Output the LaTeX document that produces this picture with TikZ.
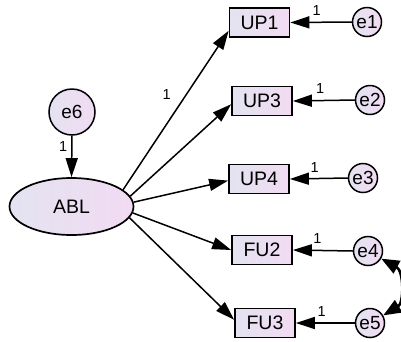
\documentclass[tikz,border=0pt]{standalone}
\usepackage{fontspec}
\setmainfont{Liberation Sans}
\usetikzlibrary{arrows.meta,shapes.geometric}
\definecolor{fa}{HTML}{E3E3F1}
\definecolor{fb}{HTML}{F2DBF2}
\begin{document}
\begin{tikzpicture}[x=1pt,y=-1pt,
  obs/.style={draw, line width=1.7pt, left color=fa, right color=fb, minimum width=60pt, minimum height=29pt, inner sep=0pt, font=\fontsize{19.5}{19.5}\selectfont},
  err/.style={circle, draw, line width=1.5pt, left color=fa, right color=fb, minimum size=29pt, inner sep=0pt, font=\fontsize{19}{19}\selectfont},
  lat/.style={ellipse, draw, line width=1.7pt, left color=fa, right color=fb, minimum width=124pt, minimum height=57pt, inner sep=0pt, font=\fontsize{19.5}{19.5}\selectfont},
  arr/.style={-{Triangle[length=19pt,width=12pt]}, line width=1.5pt},
  cov/.style={{Triangle[length=18pt,width=14pt]}-{Triangle[length=18pt,width=14pt]}, line width=2.6pt},
  lab/.style={font=\fontsize{14.5}{14.5}\selectfont, inner sep=1pt}
]
\useasboundingbox (0,0) rectangle (401,341);

\node[lat] (ABL) at (71.5,206.5) {ABL};
\node[err, minimum size=46pt] (e6) at (72,112) {e6};

\node[obs] (UP1) at (259.5,22.5) {UP1};
\node[obs] (UP3) at (262,101) {UP3};
\node[obs] (UP4) at (259,179) {UP4};
\node[obs] (FU2) at (262,250) {FU2};
\node[obs] (FU3) at (265,323) {FU3};

\node[err] (e1) at (367,22) {e1};
\node[err] (e2) at (370,100) {e2};
\node[err] (e3) at (363,178) {e3};
\node[err] (e4) at (368,251) {e4};
\node[err] (e5) at (370,323) {e5};

\draw[arr] (e6.south) -- (ABL.north) node[lab, pos=0.25, left=3pt] {1};

\draw[arr] (ABL.18) -- (UP1.195) node[lab, pos=0.6, left=14pt] {1};
\draw[arr] (ABL.10) -- (UP3.186);
\draw[arr] (ABL.4) -- (UP4.183);
\draw[arr] (ABL.-6) -- (FU2.west);
\draw[arr] (ABL.-11) -- (FU3.174);

\draw[arr] (e1.west) -- (UP1.east) node[lab, pos=0.57, above=5pt] {1};
\draw[arr] (e2.west) -- (UP3.east) node[lab, pos=0.56, above=5pt] {1};
\draw[arr] (e3.west) -- (UP4.east) node[lab, pos=0.57, above=4pt] {1};
\draw[arr] (e4.west) -- (FU2.east) node[lab, pos=0.59, above=5pt] {1};
\draw[arr] (e5.west) -- (FU3.east) node[lab, pos=0.56, above=5pt] {1};

\draw[cov] (e4.-30) .. controls (404,271) and (404,303) .. (e5.30);
\end{tikzpicture}
\end{document}
